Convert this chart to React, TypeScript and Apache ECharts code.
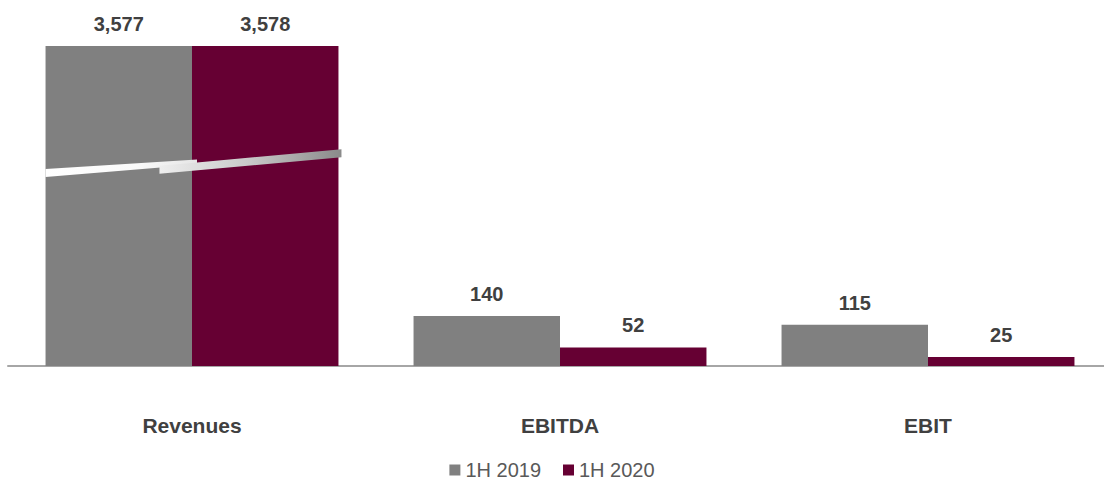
import React, { useEffect, useRef } from "react";
import * as echarts from "echarts";

const categories = ["Revenues", "EBITDA", "EBIT"];
const seriesNames = ["1H 2019", "1H 2020"];
const values2019 = [3577, 140, 115];
const values2020 = [3578, 52, 25];
// broken-axis display cap (bars above this are drawn cut at this height)
const breakCap = 894;
const breakValue = 550;
const yMax = 1000;

const GRAY = "#808080";
const PURPLE = "#660033";
const FONT = "'Liberation Sans', Arial, sans-serif";

export default function App() {
  const ref = useRef<HTMLDivElement>(null);
  useEffect(() => {
    if (!ref.current) return;
    const chart = echarts.init(ref.current, undefined, { renderer: "svg" });
    const mk = (name: string, vals: number[], color: string) => ({
      name,
      type: "bar",
      barGap: "0%",
      barCategoryGap: "20.4%",
      data: vals.map((v) => ({ value: Math.min(v, breakCap), real: v })),
      itemStyle: { color },
      label: {
        show: true,
        position: "top",
        distance: 12,
        fontFamily: FONT,
        fontSize: 20,
        fontWeight: "bold",
        color: "#404040",
        formatter: (p: any) => p.data.real.toLocaleString("en-US"),
      },
    });
    chart.setOption({
      animation: false,
      textStyle: { fontFamily: FONT },
      grid: {
        left: 8,
        top: 8,
        width: 1104,
        height: 358,
        containLabel: false,
        outerBoundsMode: "none",
      },
      legend: {
        data: seriesNames,
        bottom: 0,
        padding: 0,
        left: "center",
        icon: "rect",
        itemWidth: 11,
        itemHeight: 11,
        itemGap: 22,
        textStyle: { fontFamily: FONT, fontSize: 20, color: "#595959", lineHeight: 20 },
      },
      xAxis: {
        type: "category",
        data: categories,
        axisTick: { show: false },
        axisLine: { lineStyle: { color: "#a6a6a6", width: 2 } },
        axisLabel: {
          margin: 49,
          fontFamily: FONT,
          fontSize: 21,
          fontWeight: "bold",
          color: "#404040",
        },
      },
      yAxis: { type: "value", min: 0, max: yMax, show: false, splitLine: { show: false } },
      series: [mk(seriesNames[0], values2019, GRAY), mk(seriesNames[1], values2020, PURPLE)],
    });

    // break decoration on the Revenues bars
    const c0 = chart.convertToPixel({ xAxisIndex: 0 }, 0) as number;
    const c1 = chart.convertToPixel({ xAxisIndex: 0 }, 1) as number;
    const band = c1 - c0;
    const half = band * 0.398;
    const x0 = c0 - half;
    const x1 = c0 + half + 3;
    const yb = chart.convertToPixel({ yAxisIndex: 0 }, breakValue) as number;
    const slope = -0.064;
    const yAt = (x: number) => yb + (x - x0) * slope;
    const xa = x0 + (x1 - x0) * 0.385;
    const xb = c0 + 5;
    const th = 8;
    chart.setOption({
      graphic: [
        {
          type: "polygon",
          z: 100,
          shape: {
            points: [
              [x0, yAt(x0)],
              [xb, yAt(xb)],
              [xb, yAt(xb) + th - 3],
              [x0, yAt(x0) + th],
            ],
          },
          style: {
            fill: new echarts.graphic.LinearGradient(0, 0, 1, 0, [
              { offset: 0, color: "#ffffff" },
              { offset: 0.6, color: "#fafafa" },
              { offset: 1, color: "#e6e6e6" },
            ]),
          },
        },
        {
          type: "polygon",
          z: 101,
          shape: {
            points: [
              [xa, yAt(xa) + 4],
              [xb, yAt(xb) + 3],
              [x1, yAt(x1) - 1],
              [x1, yAt(x1) + th - 1],
              [xa, yAt(xa) + th + 4],
            ],
          },
          style: {
            fill: new echarts.graphic.LinearGradient(0, 0, 1, 0, [
              { offset: 0, color: "#eeeeee" },
              { offset: 0.5, color: "#c8c8c8" },
              { offset: 1, color: "#8a8a8a" },
            ]),
          },
        },
      ],
    });
    return () => chart.dispose();
  }, []);
  return (
    <div
      ref={ref}
      style={{ position: "absolute", left: 0, top: 0, width: 1104, height: 480 }}
    />
  );
}
